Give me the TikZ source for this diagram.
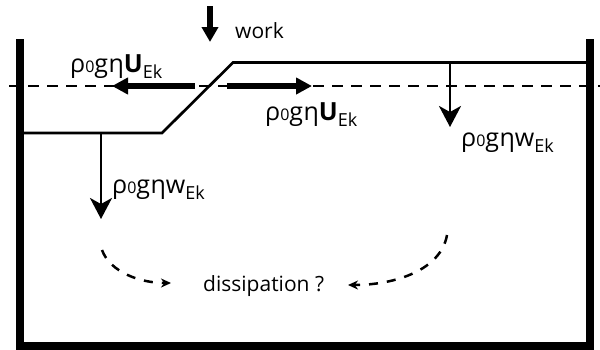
\documentclass[tikz,border=0pt]{standalone}
\usepackage{fontspec}
\setmainfont{Open Sans}
\usetikzlibrary{arrows.meta}
\newcommand\subz{{\fontsize{16}{16}\selectfont 0}}
\newcommand\subek{\raisebox{-6pt}{\fontsize{18}{18}\selectfont Ek}}
\newcommand\energy[1]{ρ\subz g\kern0.5ptη#1\subek}
\begin{document}
\begin{tikzpicture}[x=1pt,y=-1pt,
  wall/.style={line width=8pt},
  surf/.style={line width=2.7pt},
  flux/.style={line width=6pt,-{Stealth[length=16pt,width=16pt,inset=0pt]}},
  downarr/.style={line width=2.5pt,-{Stealth[length=21pt,width=22pt,inset=6pt]}},
  workarr/.style={line width=6pt,-{Stealth[length=15pt,width=16pt,inset=0pt]}},
  diss/.style={line width=2.5pt,dash pattern=on 9pt off 9pt,-{Stealth[length=10pt,width=9pt]}},
  lab/.style={font=\fontsize{25}{30}\selectfont,inner sep=0pt,anchor=base west},
  small/.style={font=\fontsize{21}{25}\selectfont,inner sep=0pt,anchor=base west}]
\useasboundingbox (0,0) rectangle (600,349);
% tank
\coordinate (tl) at (20,39);
\coordinate (bl) at (20,346);
\coordinate (br) at (590,346);
\coordinate (tr) at (590,39);
\draw[wall] (tl) -- (bl) -- (br) -- (tr);
% mean level
\coordinate (ml) at (9,86);
\coordinate (mr) at (600,86);
\draw[line width=2.5pt,dash pattern=on 11pt off 8pt] (ml) -- (mr);
% surface
\coordinate (s1) at (24,133);
\coordinate (s2) at (162,133);
\coordinate (s3) at (233,62.5);
\coordinate (s4) at (586,62.5);
\draw[surf] (s1) -- (s2) -- (s3) -- (s4);
% horizontal fluxes
\coordinate (fl0) at (195,86);
\coordinate (fl1) at (112,86);
\coordinate (fr0) at (227,86);
\coordinate (fr1) at (312,86);
\draw[flux] (fl0) -- (fl1);
\draw[flux] (fr0) -- (fr1);
% vertical fluxes
\coordinate (dl0) at (101,133);
\coordinate (dl1) at (101,219);
\coordinate (dr0) at (450,62);
\coordinate (dr1) at (450,127);
\draw[downarr] (dl0) -- (dl1);
\draw[downarr] (dr0) -- (dr1);
% work
\coordinate (w0) at (210,6);
\coordinate (w1) at (210,42);
\draw[workarr] (w0) -- (w1);
\node[small] (work) at (235,38) {work};
% labels
\node[lab] (uL) at (70,72) {\energy{\textbf{U}}};
\node[lab] (uR) at (265,120) {\energy{\textbf{U}}};
\node[lab] (wR) at (461,146) {\energy{w}};
\node[lab] (wL) at (112,193) {\energy{w}};
% dissipation
\node[small] (dis) at (203,291) {dissipation ?};
\coordinate (c0) at (102,250);
\coordinate (c1) at (171,283);
\coordinate (c2) at (447,235);
\coordinate (c3) at (348,285);
\draw[diss] (c0) .. controls (110,272) and (140,283) .. (c1);
\draw[diss] (c2) .. controls (441,270) and (395,285) .. (c3);
\end{tikzpicture}
\end{document}
